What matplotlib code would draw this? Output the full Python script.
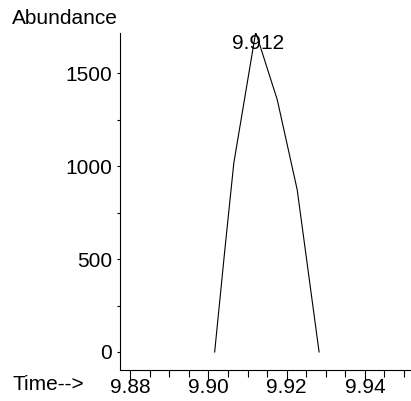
import matplotlib
matplotlib.use("Agg")
import matplotlib.pyplot as plt
from matplotlib.ticker import MultipleLocator

plt.rcParams['font.family'] = ['Liberation Sans', 'DejaVu Sans']

time = [9.9016, 9.9042, 9.9065, 9.9121, 9.9176, 9.9227, 9.9283]
abundance = [0, 550, 1018, 1722, 1359, 874, 0]
peak_label = "9.912"
peak_time = 9.9121
x_ticks = [9.88, 9.90, 9.92, 9.94]
y_ticks = [0, 500, 1000, 1500]

FS = 15
fig = plt.figure(figsize=(4.11, 4.01), dpi=100)
ax = fig.add_axes([0.292, 0.0773, 0.708, 0.8404])
ax.plot(time, abundance, color='black', lw=0.8)
ax.set_xlim(9.8774, 9.9518)
ax.set_ylim(-97, 1718)
ax.set_xticks(x_ticks)
ax.set_xticklabels([f"{t:.2f}" for t in x_ticks])
ax.set_yticks(y_ticks)
ax.xaxis.set_minor_locator(MultipleLocator(0.005))
ax.yaxis.set_minor_locator(MultipleLocator(250))
for s in ['top', 'right']:
    ax.spines[s].set_visible(False)
ax.spines['left'].set_linewidth(0.8)
ax.spines['bottom'].set_linewidth(0.8)
ax.tick_params(axis='x', which='major', direction='out', length=7, width=0.8, labelsize=FS, pad=-1)
ax.tick_params(axis='x', which='minor', direction='out', length=5, width=0.8)
ax.tick_params(axis='y', which='major', direction='out', length=2, width=0.8, labelsize=FS, pad=3.5)
ax.tick_params(axis='y', which='minor', direction='out', length=2, width=0.8)
ax.annotate(peak_label, xy=(peak_time, 1722), xytext=(2, -8), textcoords='offset points',
            ha='center', va='center', fontsize=FS, annotation_clip=False)
fig.text(12/411, 1 - 18/401, "Abundance", fontsize=FS, ha='left', va='center')
fig.text(12/411, 1 - 385/401, "Time-->", fontsize=FS, ha='left', va='center')
fig.savefig("out.png", dpi=100)
